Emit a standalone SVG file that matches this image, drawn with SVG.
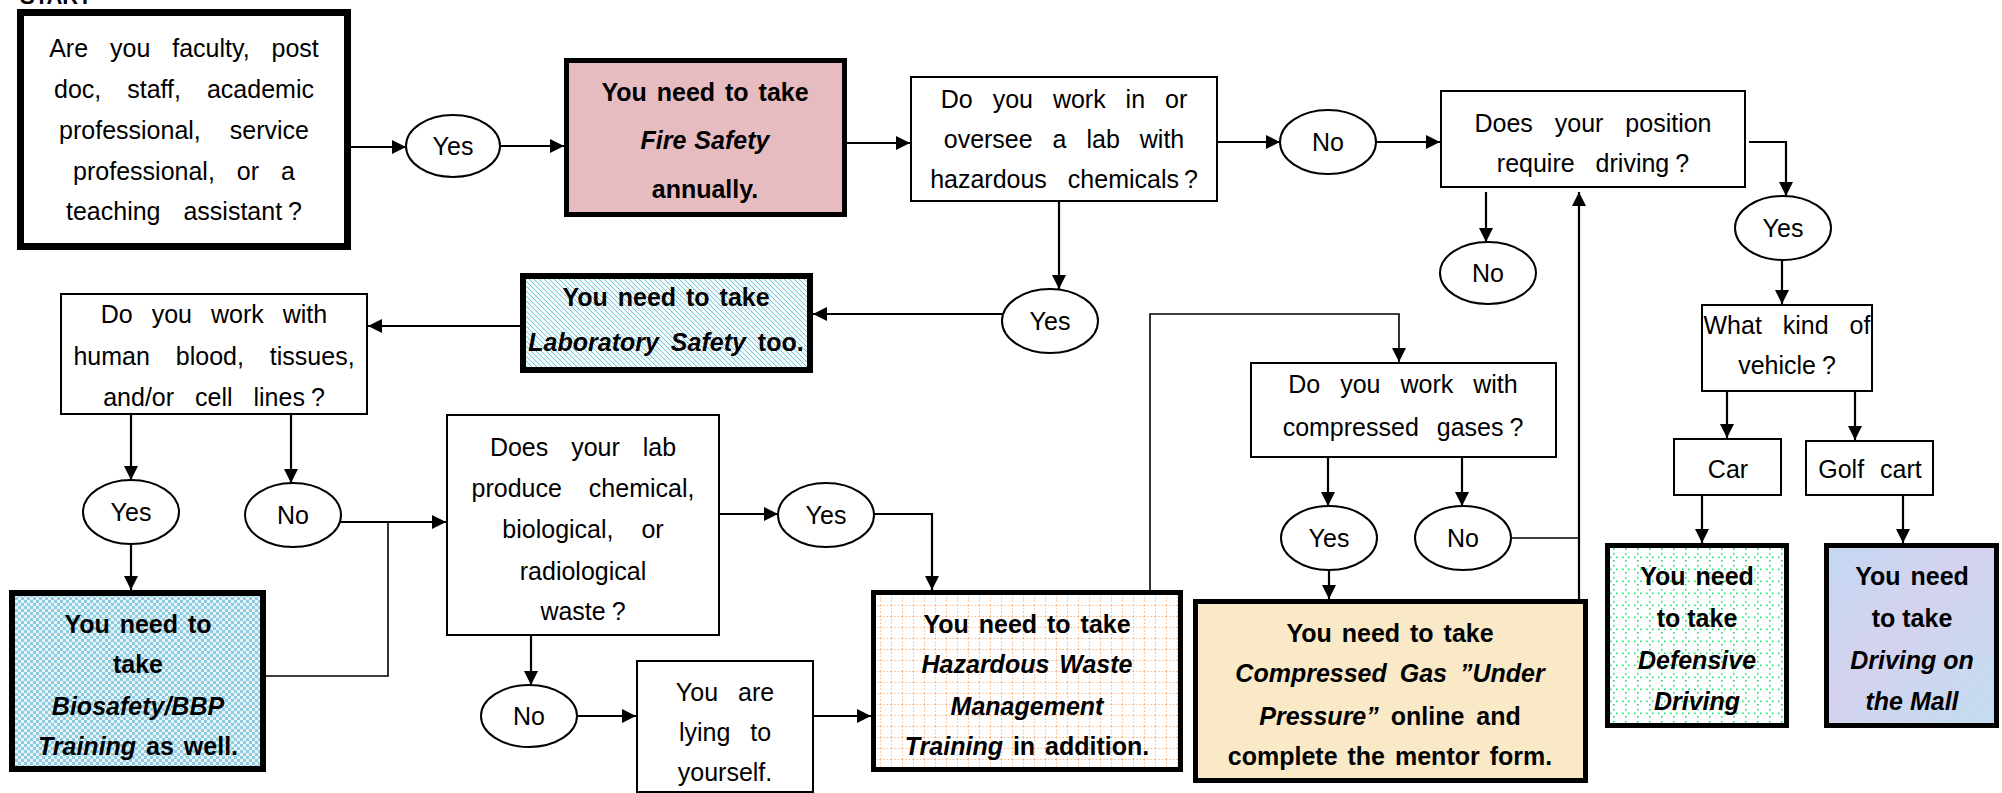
<svg xmlns="http://www.w3.org/2000/svg" width="2002" height="793" viewBox="0 0 2002 793">
<defs>
<marker id="ah" markerUnits="userSpaceOnUse" markerWidth="14" markerHeight="14" refX="14" refY="7" orient="auto"><path d="M0,0 L14,7 L0,14 z" fill="#000"/></marker>
<pattern id="hatch" patternUnits="userSpaceOnUse" width="5" height="5"><rect width="5" height="5" fill="#f4fbfd"/><path d="M0,0 L5,5 M-1,4 L1,6 M4,-1 L6,1" stroke="#78bfd2" stroke-width="1"/></pattern>
<pattern id="check" patternUnits="userSpaceOnUse" width="6" height="6"><rect width="6" height="6" fill="#e6f5fa"/><rect width="3" height="3" fill="#8ecbe0"/><rect x="3" y="3" width="3" height="3" fill="#8ecbe0"/></pattern>
<pattern id="grid" patternUnits="userSpaceOnUse" width="11" height="11"><rect width="11" height="11" fill="#fff"/><path d="M0,0.5 H11 M0.5,0 V11" stroke="#f7bb8e" stroke-width="1.1" stroke-dasharray="1.5,1.8"/></pattern>
<pattern id="dots" patternUnits="userSpaceOnUse" width="12" height="12"><rect width="12" height="12" fill="#fff"/><g fill="#1be06f"><rect x="5" y="1" width="1.6" height="1.6"/><rect x="2" y="4.5" width="1.6" height="1.6"/><rect x="8" y="4.5" width="1.6" height="1.6"/><rect x="5" y="8" width="1.6" height="1.6"/></g></pattern>
<linearGradient id="mall" x1="0" y1="0" x2="1" y2="1"><stop offset="0" stop-color="#c4d8f2"/><stop offset="0.45" stop-color="#d4d2ef"/><stop offset="1" stop-color="#c2dcf0"/></linearGradient>
</defs>
<style>
.t{font-family:"Liberation Sans",Arial,sans-serif;font-size:25px;text-anchor:middle;fill:#000}
.b{font-weight:bold}
.i{font-style:italic;font-weight:bold}
.box{fill:#fff;stroke:#000;stroke-width:2}
.ov{fill:#fff;stroke:#000;stroke-width:2}
.c{fill:none;stroke:#000;stroke-width:2.2}
.cs{fill:none;stroke:#000;stroke-width:1.6}
</style>
<rect width="2002" height="793" fill="#fff"/>
<text x="20" y="4" style="font-family:'Liberation Sans',Arial,sans-serif;font-size:22px;font-weight:bold">START</text>

<g id="start">
<rect x="20.5" y="12.5" width="327" height="234" fill="#fff" stroke="#000" stroke-width="7"/>
<text class="t" x="184" y="57" word-spacing="15">Are you faculty, post</text>
<text class="t" x="184" y="98" word-spacing="19">doc, staff, academic</text>
<text class="t" x="184" y="139" word-spacing="22">professional, service</text>
<text class="t" x="184" y="180" word-spacing="15">professional, or a</text>
<text class="t" x="184" y="220" word-spacing="16">teaching assistant<tspan dx="6">?</tspan></text>
</g>

<g id="yes1"><ellipse class="ov" cx="453" cy="146" rx="47" ry="31"/><text class="t" x="453" y="155">Yes</text></g>

<g id="fire">
<rect x="566.5" y="60.5" width="278" height="154" fill="#e6bcc0" stroke="#000" stroke-width="5"/>
<text class="t b" x="705" y="101" word-spacing="3">You need to take</text>
<text class="t i" x="705" y="149" word-spacing="1">Fire Safety</text>
<text class="t b" x="705" y="198">annually.</text>
</g>

<g id="lab-q">
<rect class="box" x="911" y="77" width="306" height="124"/>
<text class="t" x="1064" y="108" word-spacing="13">Do you work in or</text>
<text class="t" x="1064" y="148" word-spacing="13">oversee a lab with</text>
<text class="t" x="1064" y="188" word-spacing="14">hazardous chemicals<tspan dx="5">?</tspan></text>
</g>

<g id="no1"><ellipse class="ov" cx="1328" cy="142" rx="48" ry="32"/><text class="t" x="1328" y="151">No</text></g>

<g id="drive-q">
<rect class="box" x="1441" y="91" width="304" height="96"/>
<text class="t" x="1593" y="132" word-spacing="15">Does your position</text>
<text class="t" x="1593" y="172" word-spacing="14">require driving<tspan dx="6">?</tspan></text>
</g>

<g id="no2"><ellipse class="ov" cx="1488" cy="273" rx="48" ry="31"/><text class="t" x="1488" y="282">No</text></g>

<g id="yes3"><ellipse class="ov" cx="1783" cy="228" rx="48" ry="32"/><text class="t" x="1783" y="237">Yes</text></g>

<g id="vehicle-q">
<rect class="box" x="1702" y="305" width="170" height="86"/>
<text class="t" x="1787" y="334" word-spacing="14">What kind of</text>
<text class="t" x="1787" y="374">vehicle<tspan dx="6">?</tspan></text>
</g>

<g id="car"><rect class="box" x="1674" y="439" width="107" height="56"/><text class="t" x="1728" y="478">Car</text></g>
<g id="golf"><rect class="box" x="1806" y="441" width="127" height="54"/><text class="t" x="1870" y="478" word-spacing="9">Golf cart</text></g>

<g id="defensive">
<rect x="1607.5" y="545.5" width="179" height="180" fill="url(#dots)" stroke="#000" stroke-width="5"/>
<text class="t b" x="1697" y="585" word-spacing="3">You need</text>
<text class="t b" x="1697" y="627">to take</text>
<text class="t i" x="1697" y="669">Defensive</text>
<text class="t i" x="1697" y="710">Driving</text>
</g>

<g id="mall-box">
<rect x="1826.5" y="545.5" width="170" height="180" fill="url(#mall)" stroke="#000" stroke-width="5"/>
<text class="t b" x="1912" y="585" word-spacing="3">You need</text>
<text class="t b" x="1912" y="627">to take</text>
<text class="t i" x="1912" y="669">Driving on</text>
<text class="t i" x="1912" y="710">the Mall</text>
</g>

<g id="yes2"><ellipse class="ov" cx="1050" cy="321" rx="48" ry="32"/><text class="t" x="1050" y="330">Yes</text></g>

<g id="labsafety">
<rect x="523" y="276" width="287" height="94" fill="url(#hatch)" stroke="#000" stroke-width="6"/>
<text class="t b" x="666" y="306" word-spacing="3">You need to take</text>
<text class="t b" x="666" y="351" word-spacing="5"><tspan class="i">Laboratory Safety</tspan> too.</text>
</g>

<g id="blood-q">
<rect class="box" x="61" y="294" width="306" height="120"/>
<text class="t" x="214" y="323" word-spacing="12">Do you work with</text>
<text class="t" x="214" y="365" word-spacing="19">human blood, tissues,</text>
<text class="t" x="214" y="406" word-spacing="14">and/or cell lines<tspan dx="6">?</tspan></text>
</g>

<g id="yesL"><ellipse class="ov" cx="131" cy="512" rx="48" ry="32"/><text class="t" x="131" y="521">Yes</text></g>
<g id="noL"><ellipse class="ov" cx="293" cy="515" rx="48" ry="32"/><text class="t" x="293" y="524">No</text></g>

<g id="bio">
<rect x="12" y="593" width="251" height="176" fill="url(#check)" stroke="#000" stroke-width="6"/>
<text class="t b" x="138" y="633" word-spacing="3">You need to</text>
<text class="t b" x="138" y="673">take</text>
<text class="t i" x="138" y="715">Biosafety/BBP</text>
<text class="t b" x="138" y="755" word-spacing="3"><tspan class="i">Training</tspan> as well.</text>
</g>

<g id="waste-q">
<rect class="box" x="447" y="415" width="272" height="220"/>
<text class="t" x="583" y="456" word-spacing="16">Does your lab</text>
<text class="t" x="583" y="497" word-spacing="20">produce chemical,</text>
<text class="t" x="583" y="538" word-spacing="21">biological, or</text>
<text class="t" x="583" y="580">radiological</text>
<text class="t" x="583" y="620">waste<tspan dx="6">?</tspan></text>
</g>

<g id="yesM"><ellipse class="ov" cx="826" cy="515" rx="48" ry="32"/><text class="t" x="826" y="524">Yes</text></g>

<g id="noB"><ellipse class="ov" cx="529" cy="716" rx="48" ry="31"/><text class="t" x="529" y="725">No</text></g>

<g id="lying">
<rect class="box" x="637" y="661" width="176" height="131"/>
<text class="t" x="725" y="701" word-spacing="13">You are</text>
<text class="t" x="725" y="741" word-spacing="13">lying to</text>
<text class="t" x="725" y="781">yourself.</text>
</g>

<g id="hazwaste">
<rect x="873.5" y="592.5" width="307" height="177" fill="url(#grid)" stroke="#000" stroke-width="5"/>
<text class="t b" x="1027" y="633" word-spacing="3">You need to take</text>
<text class="t i" x="1027" y="673" word-spacing="3">Hazardous Waste</text>
<text class="t i" x="1027" y="715">Management</text>
<text class="t b" x="1027" y="755" word-spacing="3"><tspan class="i">Training</tspan> in addition.</text>
</g>

<g id="gas-q">
<rect class="box" x="1251" y="363" width="305" height="94"/>
<text class="t" x="1403" y="393" word-spacing="13">Do you work with</text>
<text class="t" x="1403" y="436" word-spacing="11">compressed gases<tspan dx="6">?</tspan></text>
</g>

<g id="yesC"><ellipse class="ov" cx="1329" cy="538" rx="48" ry="32"/><text class="t" x="1329" y="547">Yes</text></g>
<g id="noC"><ellipse class="ov" cx="1463" cy="538" rx="48" ry="32"/><text class="t" x="1463" y="547">No</text></g>

<g id="gas">
<rect x="1195.5" y="601.5" width="390" height="179" fill="#f9e9c7" stroke="#000" stroke-width="5"/>
<text class="t b" x="1390" y="642" word-spacing="3">You need to take</text>
<text class="t i" x="1390" y="682" word-spacing="6">Compressed Gas ”Under</text>
<text class="t b" x="1390" y="725" word-spacing="5"><tspan class="i">Pressure”</tspan> online and</text>
<text class="t b" x="1390" y="765" word-spacing="3">complete the mentor form.</text>
</g>

<g id="connectors">
<path class="c" d="M351,147 H406" marker-end="url(#ah)"/>
<path class="c" d="M500,146 H564" marker-end="url(#ah)"/>
<path class="c" d="M847,143 H910" marker-end="url(#ah)"/>
<path class="c" d="M1218,142 H1280" marker-end="url(#ah)"/>
<path class="c" d="M1376,142 H1440" marker-end="url(#ah)"/>
<path class="c" d="M1486,192 V242" marker-end="url(#ah)"/>
<path class="c" d="M1749,142 H1786 V196" marker-end="url(#ah)"/>
<path class="c" d="M1782,260 V304" marker-end="url(#ah)"/>
<path class="c" d="M1727,392 V438" marker-end="url(#ah)"/>
<path class="c" d="M1855,392 V440" marker-end="url(#ah)"/>
<path class="c" d="M1702,496 V543" marker-end="url(#ah)"/>
<path class="c" d="M1903,496 V543" marker-end="url(#ah)"/>
<path class="c" d="M1059,202 V289" marker-end="url(#ah)"/>
<path class="c" d="M1002,314 H813" marker-end="url(#ah)"/>
<path class="c" d="M520,326 H368" marker-end="url(#ah)"/>
<path class="c" d="M131,415 V480" marker-end="url(#ah)"/>
<path class="c" d="M291,415 V483" marker-end="url(#ah)"/>
<path class="c" d="M131,544 V590" marker-end="url(#ah)"/>
<path class="c" d="M341,522 H446" marker-end="url(#ah)"/>
<path class="cs" d="M266,676 H388 V522"/>
<path class="c" d="M720,514 H778" marker-end="url(#ah)"/>
<path class="c" d="M874,514 H932 V590" marker-end="url(#ah)"/>
<path class="c" d="M531,636 V685" marker-end="url(#ah)"/>
<path class="c" d="M577,716 H636" marker-end="url(#ah)"/>
<path class="c" d="M814,716 H871" marker-end="url(#ah)"/>
<path class="cs" d="M1150,590 V314 H1399 V362" marker-end="url(#ah)"/>
<path class="c" d="M1328,458 V506" marker-end="url(#ah)"/>
<path class="c" d="M1462,458 V506" marker-end="url(#ah)"/>
<path class="c" d="M1329,570 V599" marker-end="url(#ah)"/>
<path class="cs" d="M1511,538 H1579"/>
<path class="c" d="M1579,599 V192" marker-end="url(#ah)"/>
</g>
</svg>
